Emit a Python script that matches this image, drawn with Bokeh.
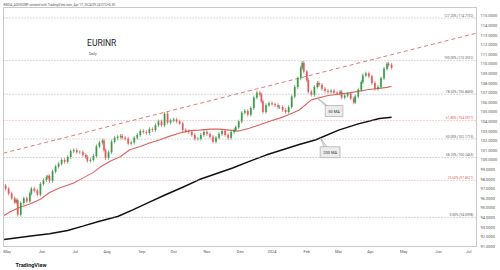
import numpy as np
from bokeh.plotting import figure
from bokeh.models import ColumnDataSource, Span, Label, FixedTicker, PrintfTickFormatter, Title, Range1d
from bokeh.embed import file_html
from bokeh.resources import INLINE

# ---------------- data ----------------
bars = [-1, 1, 3, 5, 6, 7, 9, 11, 13, 15, 16, 18, 20, 22, 24, 26, 27, 28, 30, 32, 34, 36, 38, 40, 42, 44,
        46, 48, 50, 52, 53, 55, 57, 59, 61, 63, 64, 65, 67, 69, 71, 73, 75, 76, 78, 80, 82, 84, 86, 88,
        90, 92, 94, 96, 98, 100, 102, 104, 106, 108, 110, 112, 114, 116, 118, 120, 122, 124, 126, 128,
        130, 132, 134, 136, 138, 140, 142, 144, 146, 148, 150, 151, 153, 155, 157, 159, 161, 163, 165,
        167, 168, 169, 171, 173, 175, 177, 179, 180, 182, 184, 186, 188, 190, 192, 194, 195, 196, 198,
        199, 201, 203, 205, 206, 208, 210, 212, 214, 216, 218, 220, 221, 223, 225, 227, 229, 230, 232,
        234, 235, 237, 239, 241, 243, 245, 247, 249, 251, 252, 254]
closes = [97.0, 96.5, 96.0, 95.6, 95.8, 94.3, 95.5, 96.0, 95.7, 96.5, 97.0, 96.8, 96.4, 97.5, 97.9, 98.2,
          98.3, 97.8, 98.8, 99.3, 99.6, 100.0, 99.8, 100.3, 100.9, 101.0, 100.8, 100.8, 100.5, 100.3,
          99.9, 100.0, 100.4, 101.4, 101.8, 102.0, 101.0, 100.2, 100.8, 101.9, 102.3, 102.4, 102.5,
          102.3, 102.2, 101.7, 101.8, 102.3, 102.6, 103.0, 102.9, 102.8, 103.2, 103.1, 103.6, 104.0,
          103.6, 104.8, 103.9, 104.1, 104.2, 104.0, 103.8, 103.1, 103.0, 102.9, 102.6, 102.2, 102.2,
          102.6, 102.9, 102.7, 102.4, 101.9, 102.3, 102.7, 103.0, 102.6, 102.3, 102.9, 103.1, 103.4,
          104.0, 104.9, 105.1, 104.7, 105.4, 106.5, 107.0, 106.8, 106.1, 105.0, 105.7, 105.9, 105.8,
          105.7, 105.5, 105.5, 105.2, 105.0, 105.5, 106.6, 107.6, 108.5, 109.6, 110.1, 109.2, 108.3,
          107.1, 106.8, 107.6, 108.0, 107.8, 107.4, 107.2, 107.1, 107.2, 107.0, 106.9, 107.1, 106.5,
          106.7, 106.9, 106.4, 106.0, 106.6, 107.3, 108.1, 108.8, 109.0, 108.7, 108.0, 107.4, 107.6,
          108.5, 109.5, 110.0, 109.9, 109.587]
first_open = 97.3

ma50_bars = [-2, 2, 9, 15, 22, 28, 35, 44, 50, 57, 61, 68, 75, 81, 88, 94, 101, 107, 114, 121, 127, 134,
             140, 147, 153, 160, 167, 173, 180, 186, 193, 201, 212, 225, 238, 251, 254]
ma50_vals = [94.2, 94.6, 95.1, 95.4, 95.9, 96.6, 97.1, 97.6, 98.1, 98.7, 99.2, 99.85, 100.35, 101.05,
             101.4, 101.75, 102.1, 102.45, 102.8, 103.05, 103.1, 103.2, 103.2, 103.1, 103.0, 103.3,
             103.65, 104.0, 104.35, 104.7, 105.2, 106.25, 106.7, 106.95, 107.3, 107.55, 107.6772]

ma200_bars = [-2, 17, 28, 40, 50, 61, 73, 83, 94, 105, 116, 127, 138, 149, 160, 171, 182, 193, 204, 219,
              232, 246, 254]
ma200_vals = [91.7, 92.1, 92.3, 92.65, 93.1, 93.6, 94.1, 94.8, 95.6, 96.4, 97.15, 97.95, 98.55, 99.15,
              99.85, 100.5, 101.05, 101.6, 102.1, 103.1, 103.75, 104.3, 104.4467]

trend_bars = [-2.4, 310.1]
trend_vals = [100.7, 113.2]

fib_ratios = ["127.20%", "100.00%", "78.60%", "61.80%", "50.00%", "38.20%", "23.60%", "0.00%"]
fib_levels = [114.7732, 110.3332, 106.8400, 104.0977, 102.1715, 100.2453, 97.8621, 94.0098]
fib_red = [False, False, False, True, False, False, True, False]

month_ticks = [0, 23, 45, 66, 89, 110, 132, 154, 175, 198, 219, 240, 262, 285, 305]
month_labels = ["May", "Jun", "Jul", "Aug", "Sep", "Oct", "Nov", "Dec", "2024", "Feb", "Mar", "Apr",
                "May", "Jun", "Jul"]
price_ticks = [91, 92, 93, 94, 95, 96, 97, 98, 99, 100, 101, 102, 103, 104, 105, 106, 107, 108, 109,
               110, 111, 112, 113, 114, 115]

# ---------------- styling ----------------
UP = "#3f9b4a"
DN = "#e25c5c"
MA50_C = "#e0605e"
FONT = "Roboto"
WICK = 0.2

opens = [first_open] + closes[:-1]
tops = [max(o, c) for o, c in zip(opens, closes)]
bots = [min(o, c) for o, c in zip(opens, closes)]
src = ColumnDataSource(dict(
    x=bars, top=tops, bottom=bots,
    high=[t + WICK for t in tops], low=[b - WICK for b in bots],
    color=[UP if c >= o else DN for o, c in zip(opens, closes)],
))

p = figure(width=500, height=270, output_backend="svg", toolbar_location=None,
           x_range=Range1d(-2.4, 310.1), y_range=Range1d(90.98, 115.87),
           y_axis_location="right",
           min_border_left=3, min_border_right=22, min_border_top=7, min_border_bottom=23)
p.background_fill_color = "white"
p.border_fill_color = "white"
p.outline_line_color = "#c9c9c9"
p.outline_line_width = 1
p.grid.visible = False

# axes
for ax in (p.xaxis, p.yaxis):
    ax.major_label_text_font_size = "4px"
    ax.major_label_text_color = "#555555"
    ax.major_label_text_font = FONT
    ax.major_tick_line_color = None
    ax.minor_tick_line_color = None
    ax.major_tick_out = 0
    ax.major_tick_in = 0
    ax.minor_tick_out = 0
    ax.minor_tick_in = 0
    ax.axis_line_color = "#c9c9c9"

p.yaxis.ticker = FixedTicker(ticks=price_ticks)
p.yaxis.formatter = PrintfTickFormatter(format="%.4f")
p.yaxis.major_label_standoff = 4

p.xaxis.ticker = FixedTicker(ticks=month_ticks)
p.xaxis.major_label_overrides = {t: l for t, l in zip(month_ticks, month_labels)}
p.xaxis.major_label_standoff = 2

# fib levels
for r, lvl, red in zip(fib_ratios, fib_levels, fib_red):
    col = "#ef8a8a" if red else "#9a9a9a"
    p.add_layout(Span(location=lvl, dimension="width", line_color=col, line_dash="1 2", line_width=0.8))
    p.add_layout(Label(x=308.1, y=lvl, text=f"{r} ({lvl:.4f})", text_align="right", text_baseline="bottom",
                       y_offset=0.5, text_font_size="3.3px", text_font=FONT,
                       text_color="#e06060" if red else "#666666"))

# trendline
p.line(trend_bars, trend_vals, line_color="#e07a7a", line_dash="4 3", line_width=1)

# moving averages
p.line(ma200_bars, ma200_vals, line_color="#111111", line_width=1.5)
p.line(ma50_bars, ma50_vals, line_color=MA50_C, line_width=1.1)

# candles
p.segment(x0="x", x1="x", y0="low", y1="high", line_color="color", line_width=0.7, source=src)
p.vbar(x="x", width=1.0, top="top", bottom="bottom", fill_color="color", line_color="color",
       line_width=0.2, source=src)

# callouts
a50x = 205
a50y = float(np.interp(a50x, ma50_bars, ma50_vals))
p.patch([a50x, 211.5, 213.5], [a50y, 105.45, 105.45], fill_color="#e6e6e6", line_color="#a0a0a0",
        line_width=0.6)
p.add_layout(Label(x=216, y=105.09, text="50 MA", text_align="center", text_baseline="middle",
                   text_font_size="4px", text_font=FONT, text_color="#333333",
                   background_fill_color="#ececec", border_line_color="#a0a0a0", border_line_width=0.6,
                   padding=3))
a200x = 207
a200y = float(np.interp(a200x, ma200_bars, ma200_vals))
p.patch([a200x, 209.5, 211.8], [a200y, 101.25, 101.25], fill_color="#e6e6e6", line_color="#a0a0a0",
        line_width=0.6)
p.add_layout(Label(x=213.4, y=100.8, text="200 MA", text_align="center", text_baseline="middle",
                   text_font_size="4px", text_font=FONT, text_color="#333333",
                   background_fill_color="#ececec", border_line_color="#a0a0a0", border_line_width=0.6,
                   padding=3))

# symbol title
p.add_layout(Label(x=52.8, y=112.17, text="EURINR", text_align="left", text_baseline="middle",
                   text_font_size="8.5px", text_font=FONT, text_color="#222222"))
p.add_layout(Label(x=54.1, y=111.02, text="Daily", text_align="left", text_baseline="middle",
                   text_font_size="3.5px", text_font=FONT, text_color="#444444"))

# price badges on the right axis
badges = [(closes[-1], "#f23645", "white"), (ma50_vals[-1], "#e0403e", "white"),
          (ma200_vals[-1], "#111111", "white")]
for v, bg, fg in badges:
    p.add_layout(Label(x=310.1, y=v, text=f"{v:.4f}", x_offset=1.5, text_align="left",
                       text_baseline="middle", text_font_size="4px", text_font=FONT, text_color=fg,
                       background_fill_color=bg, padding=1))

# header and footer
p.add_layout(Title(text="KEDIA_ADVISORY created with TradingView.com, Apr 17, 2024 09:24 UTC+5:30",
                   text_font_size="3.2px", text_font=FONT, text_font_style="normal", text_color="#555555",
                   align="left", offset=0, standoff=1), "above")
p.add_layout(Title(text="TradingView", text_font_size="5.5px", text_font=FONT, text_font_style="bold",
                   text_color="#131722", align="left", offset=12, standoff=6), "below")

open("out.html", "w").write(file_html(p, INLINE))
